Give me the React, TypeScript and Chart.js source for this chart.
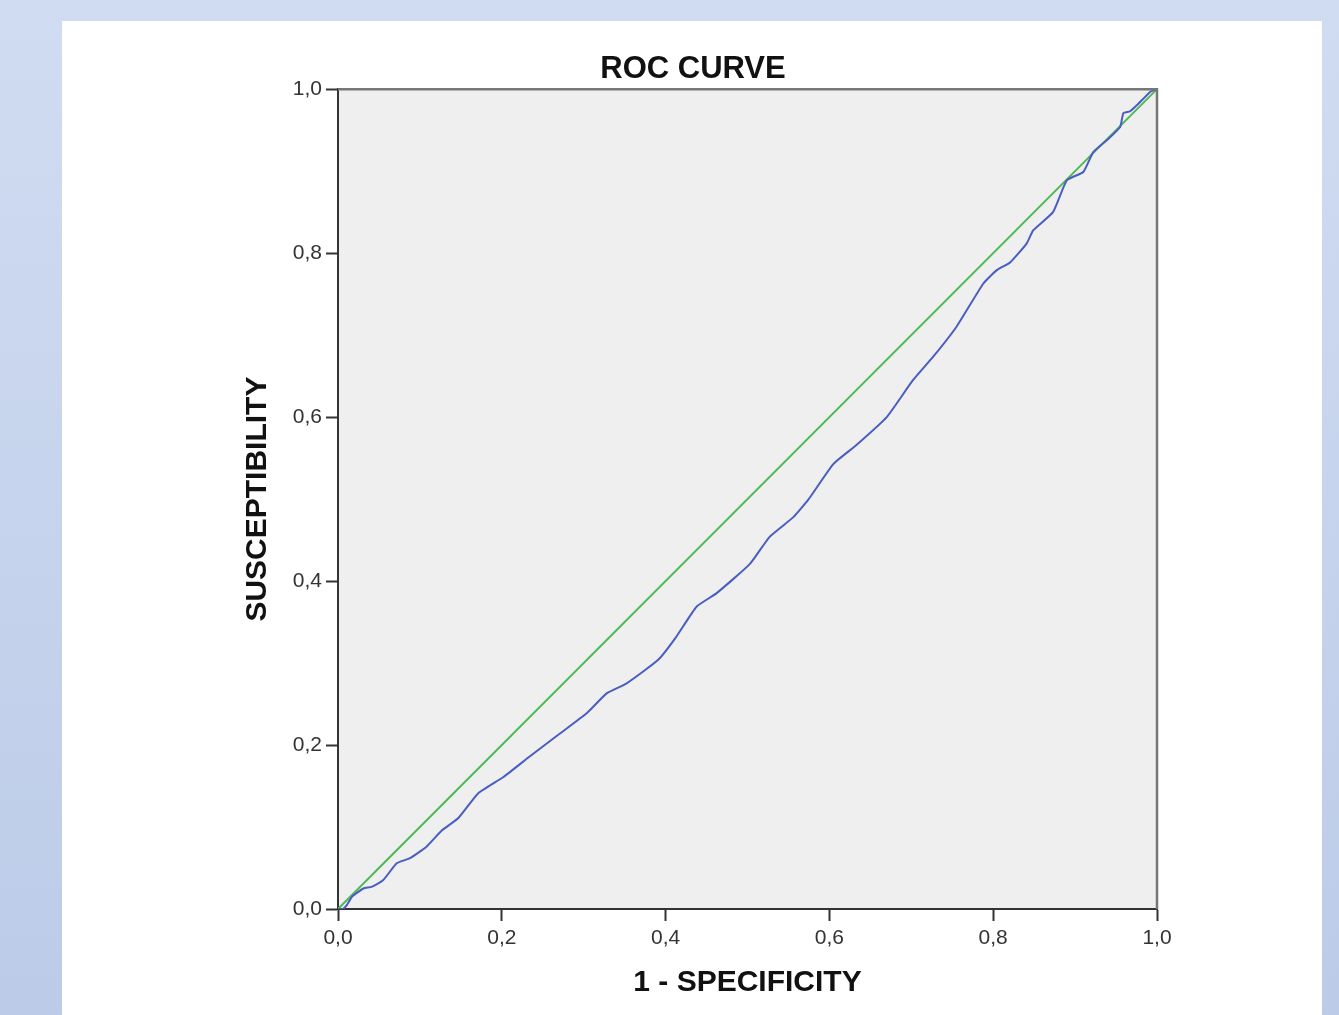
import React, { useEffect, useRef } from 'react';
import { Chart, registerables } from 'chart.js';

Chart.register(...registerables);

// ROC curve (1 - specificity, sensitivity)
const rocFpr = [
  0, 0.006, 0.011, 0.017, 0.031, 0.041, 0.055, 0.072, 0.088, 0.108, 0.127, 0.147, 0.171,
  0.202, 0.234, 0.271, 0.304, 0.328, 0.352, 0.391, 0.413, 0.438, 0.462, 0.503, 0.527,
  0.556, 0.574, 0.605, 0.633, 0.670, 0.702, 0.727, 0.755, 0.788, 0.804, 0.821, 0.841,
  0.849, 0.873, 0.890, 0.910, 0.922, 0.939, 0.955, 0.959, 0.967, 0.975, 0.992, 1,
];
const rocTpr = [
  0, 0, 0.005, 0.015, 0.025, 0.027, 0.035, 0.056, 0.062, 0.076, 0.096, 0.111, 0.141,
  0.161, 0.186, 0.214, 0.239, 0.263, 0.275, 0.304, 0.332, 0.369, 0.385, 0.421, 0.454,
  0.478, 0.499, 0.543, 0.566, 0.600, 0.645, 0.674, 0.710, 0.763, 0.779, 0.789, 0.812,
  0.828, 0.850, 0.889, 0.899, 0.923, 0.938, 0.954, 0.971, 0.973, 0.980, 0.997, 1,
];

// Reference (chance) line
const refFpr = [0, 1];
const refTpr = [0, 1];

const xTickLabels = ['0,0', '0,2', '0,4', '0,6', '0,8', '1,0'];
const yTickLabels = ['0,0', '0,2', '0,4', '0,6', '0,8', '1,0'];

const chartTitle = 'ROC CURVE';
const xAxisTitle = '1 - SPECIFICITY';
const yAxisTitle = 'SUSCEPTIBILITY';

const FONT = "'Liberation Sans', Arial, Helvetica, sans-serif";

export default function App() {
  const canvasRef = useRef<HTMLCanvasElement>(null);

  useEffect(() => {
    const canvas = canvasRef.current;
    if (!canvas) return;

    const plotFrame = {
      id: 'plotFrame',
      beforeDraw(chart: any) {
        const { ctx, chartArea: a } = chart;
        ctx.save();
        ctx.fillStyle = '#efefef';
        ctx.fillRect(a.left, a.top, a.right - a.left, a.bottom - a.top);
        ctx.restore();
      },
      afterDraw(chart: any) {
        const { ctx, chartArea: a } = chart;
        ctx.save();
        ctx.strokeStyle = '#777777';
        ctx.lineWidth = 2.5;
        ctx.beginPath();
        ctx.moveTo(a.left, a.top);
        ctx.lineTo(a.right, a.top);
        ctx.lineTo(a.right, a.bottom);
        ctx.stroke();
        ctx.restore();
      },
    };

    const chart = new Chart(canvas, {
      type: 'scatter',
      data: {
        datasets: [
          {
            label: 'ROC',
            data: rocFpr.map((x, i) => ({ x, y: rocTpr[i] })),
            showLine: true,
            borderColor: '#4a5dc0',
            borderWidth: 2,
            pointRadius: 0,
            tension: 0.15,
          },
          {
            label: 'Reference',
            data: refFpr.map((x, i) => ({ x, y: refTpr[i] })),
            showLine: true,
            borderColor: '#4fb957',
            borderWidth: 2,
            pointRadius: 0,
            tension: 0,
          },
        ],
      },
      options: {
        responsive: false,
        animation: false,
        events: [],
        layout: { padding: { left: 167, right: 165, top: 0, bottom: 0 } },
        plugins: {
          legend: { display: false },
          tooltip: { enabled: false },
          title: {
            display: true,
            text: chartTitle,
            color: '#111111',
            font: { family: FONT, size: 31, weight: 'bold' },
            padding: { top: 30, bottom: 1 },
          },
        },
        scales: {
          x: {
            type: 'linear',
            min: 0,
            max: 1,
            afterFit(scale: any) {
              scale.height = 106;
            },
            ticks: {
              stepSize: 0.2,
              padding: 5,
              color: '#333333',
              font: { family: FONT, size: 21 },
              maxRotation: 0,
              callback: (v: any) => xTickLabels[Math.round(Number(v) * 5)] ?? '',
            },
            grid: {
              drawOnChartArea: false,
              drawTicks: true,
              tickLength: 12,
              tickWidth: 2,
              tickColor: '#333333',
            },
            border: { display: true, color: '#333333', width: 2 },
            title: {
              display: true,
              text: xAxisTitle,
              color: '#111111',
              font: { family: FONT, size: 30, weight: 'bold' },
              padding: { top: 0, bottom: 14 },
            },
          },
          y: {
            type: 'linear',
            min: 0,
            max: 1,
            afterFit(scale: any) {
              scale.width = 109;
            },
            ticks: {
              stepSize: 0.2,
              padding: 4,
              color: '#333333',
              font: { family: FONT, size: 21 },
              callback: (v: any) => yTickLabels[Math.round(Number(v) * 5)] ?? '',
            },
            grid: {
              drawOnChartArea: false,
              drawTicks: true,
              tickLength: 12,
              tickWidth: 2,
              tickColor: '#333333',
            },
            border: { display: true, color: '#333333', width: 2 },
            title: {
              display: true,
              text: yAxisTitle,
              color: '#111111',
              font: { family: FONT, size: 30, weight: 'bold' },
              padding: { top: 11, bottom: 0 },
            },
          },
        },
      },
      plugins: [plotFrame],
    } as any);

    return () => chart.destroy();
  }, []);

  return (
    <div
      style={{
        position: 'fixed',
        left: 0,
        top: 0,
        width: 1339,
        height: 1015,
        overflow: 'hidden',
        background: 'linear-gradient(to bottom, #d0dcf1 0%, #bccbe8 100%)',
      }}
    >
      <div
        style={{
          position: 'absolute',
          left: 62,
          top: 21,
          width: 1260,
          height: 994,
          background: '#ffffff',
        }}
      >
        <canvas
          ref={canvasRef}
          width={1260}
          height={994}
          style={{ display: 'block', width: 1260, height: 994 }}
        />
      </div>
    </div>
  );
}
